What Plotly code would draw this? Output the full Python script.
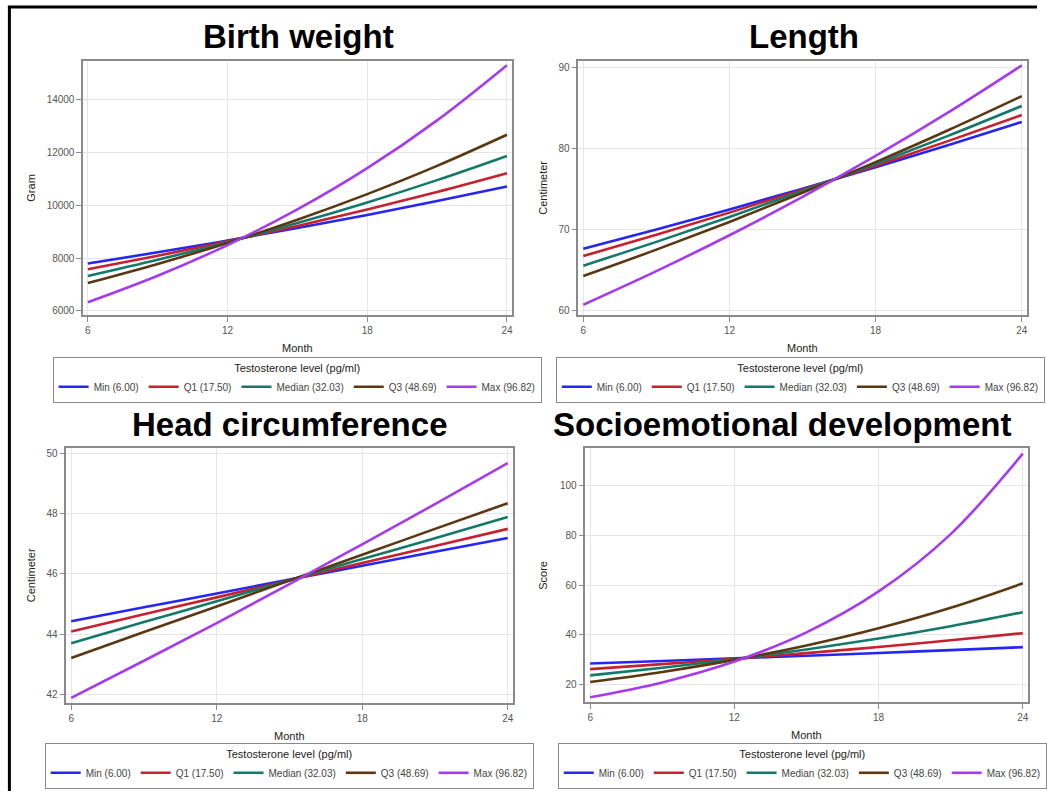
import plotly.graph_objects as go

# ---------------- data ----------------
months = [6, 9, 12, 15, 18, 21, 24]
groups = ["Min (6.00)", "Q1 (17.50)", "Median (32.03)", "Q3 (48.69)", "Max (96.82)"]
legend_title = "Testosterone level (pg/ml)"

bw_min = [7800, 8224, 8672, 9144, 9642, 10167, 10720]
bw_q1 = [7580, 8093, 8640, 9224, 9848, 10514, 11225]
bw_med = [7330, 7944, 8610, 9332, 10114, 10962, 11880]
bw_q3 = [7060, 7784, 8581, 9461, 10431, 11500, 12680]
bw_max = [6330, 7335, 8500, 9850, 11414, 13227, 15320]

len_min = [67.65, 70.04, 72.51, 75.07, 77.72, 80.47, 83.31]
len_q1 = [66.75, 69.38, 72.11, 74.95, 77.90, 80.97, 84.16]
len_med = [65.56, 68.50, 71.57, 74.77, 78.12, 81.62, 85.28]
len_q3 = [64.28, 67.54, 70.96, 74.56, 78.34, 82.31, 86.49]
len_max = [60.74, 64.89, 69.32, 74.05, 79.11, 84.51, 90.28]

hc_min = [44.43, 44.89, 45.35, 45.81, 46.27, 46.73, 47.19]
hc_q1 = [44.09, 44.66, 45.22, 45.79, 46.36, 46.92, 47.49]
hc_med = [43.70, 44.40, 45.09, 45.79, 46.49, 47.18, 47.88]
hc_q3 = [43.21, 44.07, 44.92, 45.78, 46.63, 47.49, 48.34]
hc_max = [41.89, 43.12, 44.37, 45.66, 46.98, 48.31, 49.67]

se_min = [28.55, 29.55, 30.58, 31.65, 32.76, 33.91, 35.09]
se_q1 = [26.28, 28.27, 30.40, 32.70, 35.17, 37.84, 40.70]
se_med = [23.74, 26.80, 30.25, 34.15, 38.55, 43.52, 49.12]
se_q3 = [21.07, 25.14, 29.99, 35.78, 42.68, 50.92, 60.73]
se_max = [14.93, 20.91, 29.29, 41.03, 57.47, 80.50, 112.82]

x_ticks = [6, 12, 18, 24]
bw_ticks = [6000, 8000, 10000, 12000, 14000]
len_ticks = [60, 70, 80, 90]
hc_ticks = [42, 44, 46, 48, 50]
se_ticks = [20, 40, 60, 80, 100]

# ---------------- styling / layout ----------------
W, H = 1047, 791
FONT = "Liberation Sans, Arial, Helvetica, sans-serif"
colors = ["#2626F2", "#C8202F", "#137A6A", "#5A3812", "#A63BEE"]

panels = [
    dict(title="Birth weight", ytitle="Gram",
         series=[bw_min, bw_q1, bw_med, bw_q3, bw_max], ticks=bw_ticks,
         yrange=[5848, 15478], box=(84, 61, 517, 315), tx=301, ty=37, ytx=31,
         leg=(300, 357, "top")),
    dict(title="Length", ytitle="Centimeter",
         series=[len_min, len_q1, len_med, len_q3, len_max], ticks=len_ticks,
         yrange=[59.47, 90.83], box=(584, 61, 1037, 315), tx=812, ty=37, ytx=548,
         leg=(808, 357, "top")),
    dict(title="Head circumference", ytitle="Centimeter",
         series=[hc_min, hc_q1, hc_med, hc_q3, hc_max], ticks=hc_ticks,
         yrange=[41.72, 50.17], box=(67, 448, 518, 703), tx=292, ty=425, ytx=31,
         leg=(292, 789, "bottom")),
    dict(title="Socioemotional development", ytitle="Score",
         series=[se_min, se_q1, se_med, se_q3, se_max], ticks=se_ticks,
         yrange=[13.06, 115.09], box=(591, 448, 1038, 702), tx=790, ty=425, ytx=548,
         leg=(810, 789, "bottom")),
]

fig = go.Figure()
annotations = []
layout_axes = {}

for i, p in enumerate(panels):
    n = i + 1
    xa = "x" if n == 1 else f"x{n}"
    ya = "y" if n == 1 else f"y{n}"
    leg = "legend" if n == 1 else f"legend{n}"
    l, t, r, b = p["box"]
    for g, vals, c in zip(groups, p["series"], colors):
        fig.add_trace(go.Scatter(
            x=months, y=vals, name=g, mode="lines",
            line=dict(color=c, width=2.6, shape="spline", smoothing=1.0),
            xaxis=xa, yaxis=ya, legend=leg, showlegend=True,
        ))
    common = dict(showgrid=True, gridcolor="#e6e6e6", gridwidth=1,
                  showline=True, linecolor="#8a8a8a", linewidth=1.5, mirror=True,
                  ticks="outside", ticklen=5, tickcolor="#8a8a8a", tickwidth=1,
                  zeroline=False, tickformat="d",
                  tickfont=dict(family=FONT, size=10, color="#555555"),
                  fixedrange=True)
    layout_axes["xaxis" if n == 1 else f"xaxis{n}"] = dict(
        domain=[l / W, r / W], range=[5.8, 24.22], tickvals=x_ticks,
        anchor=ya, **common)
    layout_axes["yaxis" if n == 1 else f"yaxis{n}"] = dict(
        domain=[1 - b / H, 1 - t / H], range=p["yrange"], tickvals=p["ticks"],
        anchor=xa, **common)
    layout_axes[leg] = dict(
        orientation="h", x=p["leg"][0] / W, xanchor="center",
        y=1 - p["leg"][1] / H, yanchor=p["leg"][2],
        bordercolor="#8a8a8a", borderwidth=1, bgcolor="white",
        font=dict(family=FONT, size=10, color="#444444"),
        title=dict(text=legend_title, side="top center",
                   font=dict(family=FONT, size=11, color="#222222")),
        itemwidth=30, tracegroupgap=0,
    )
    annotations.append(dict(text=f"<b>{p['title']}</b>", x=p["tx"] / W, y=1 - p["ty"] / H,
                            xref="paper", yref="paper", xanchor="center", yanchor="middle",
                            showarrow=False, font=dict(family=FONT, size=33, color="black")))
    annotations.append(dict(text="Month", x=(l + r) / 2 / W, y=1 - (b + 33) / H,
                            xref="paper", yref="paper", xanchor="center", yanchor="middle",
                            showarrow=False, font=dict(family=FONT, size=11, color="#222222")))
    annotations.append(dict(text=p["ytitle"], x=p["ytx"] / W, y=1 - (t + b) / 2 / H,
                            xref="paper", yref="paper", xanchor="center", yanchor="middle",
                            textangle=-90, showarrow=False,
                            font=dict(family=FONT, size=11, color="#222222")))

shapes = [
    dict(type="line", xref="paper", yref="paper", x0=9.5 / W, x1=9.5 / W, y0=0, y1=1 - 6 / H,
         line=dict(color="black", width=3)),
    dict(type="line", xref="paper", yref="paper", x0=8 / W, x1=1, y0=1 - 7 / H, y1=1 - 7 / H,
         line=dict(color="black", width=3)),
]

fig.update_layout(
    width=W, height=H, margin=dict(l=0, r=0, t=0, b=0),
    paper_bgcolor="white", plot_bgcolor="white",
    font=dict(family=FONT),
    annotations=annotations, shapes=shapes,
    **layout_axes,
)

post = (
    "document.documentElement.style.margin='0';"
    "document.documentElement.style.overflow='hidden';"
    "document.body.style.margin='0';"
    "document.body.style.overflow='hidden';"
)
fig.write_html("out.html", config={"displayModeBar": False}, post_script=post)
